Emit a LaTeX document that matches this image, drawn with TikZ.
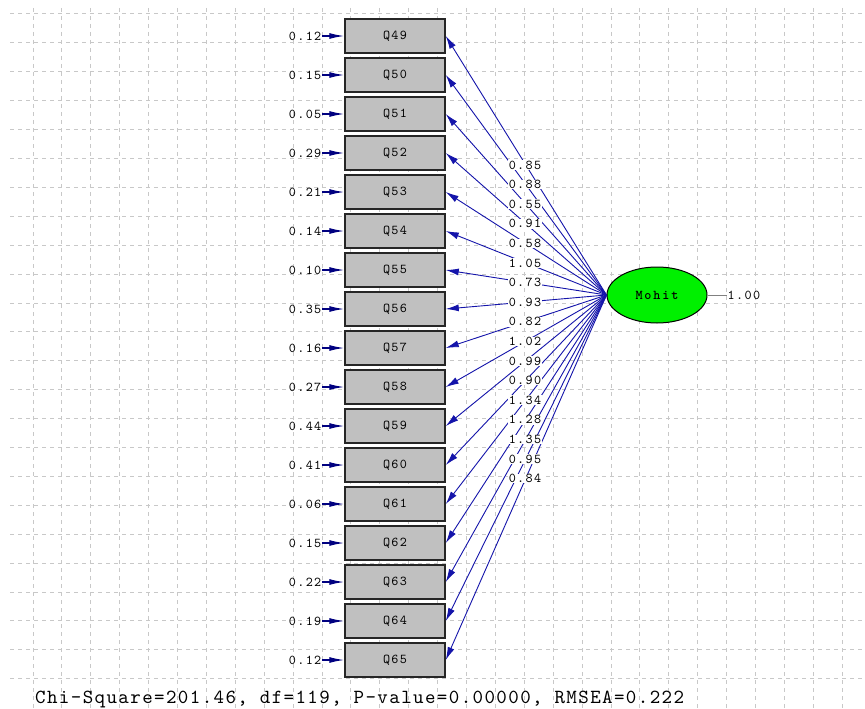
\documentclass[tikz,border=0pt]{standalone}
\usepackage{fontspec}
\usetikzlibrary{arrows.meta,shapes.geometric}
\newfontfamily\lisfont{lmmono10-regular.otf}[LetterSpace=10]
\newfontfamily\lisbold{lmmonolt10-bold.otf}[LetterSpace=14]
\newfontfamily\chifont{lmmono10-regular.otf}[LetterSpace=7]
\definecolor{gridc}{RGB}{200,200,200}
\definecolor{boxg}{RGB}{192,192,192}
\definecolor{navyarrow}{RGB}{20,20,170}
\definecolor{errnavy}{RGB}{0,0,128}
\definecolor{latgreen}{RGB}{0,240,0}
\begin{document}
\begin{tikzpicture}[x=1pt,y=-1pt,
 gridline/.style={gridc, line width=1pt, dash pattern=on 4pt off 4pt},
 qbox/.style={draw=black!85, line width=1.5pt, fill=boxg, minimum width=100pt, minimum height=34pt, inner sep=0pt, font=\lisfont\fontsize{13.5}{14}\selectfont, text=black},
 latent/.style={ellipse, draw=black, line width=1pt, fill=latgreen, minimum width=100pt, minimum height=56pt, inner sep=0pt, font=\lisbold\fontsize{13.5}{14}\selectfont},
 load/.style={draw=navyarrow, line width=0.9pt, -{Latex[length=13pt,width=7pt]}},
 err/.style={draw=errnavy, line width=1.3pt, -{Latex[length=15pt,width=6pt]}},
 lbl/.style={font=\lisfont\fontsize{13.5}{14}\selectfont, text=black, inner sep=0.5pt},
 loadlbl/.style={lbl, fill=white},
 varline/.style={draw=gray, line width=1pt},
 chistyle/.style={font=\chifont\fontsize{20}{22}\selectfont, text=black, inner sep=0pt}
]
\useasboundingbox (0,0) rectangle (865,709);
\fill[white] (0,0) rectangle (865,709);
% grid
\foreach \k in {0,...,23} \draw[gridline] (10,{14+\k*28.9}) -- (865,{14+\k*28.9});
\foreach \k in {0,...,28} \draw[gridline] ({33+\k*28.9},8) -- ({33+\k*28.9},709);
% latent
\node[latent] (m) at (657,295) {Mohit};
% boxes
\foreach \i [count=\n from 0] in {49,...,65}
  \node[qbox] (q\i) at (395,{36+\n*39}) {Q\i};
% loadings
\foreach \i in {49,...,65}
  \draw[load] (m.west) -- (q\i.east);
\foreach \i/\l [count=\n from 0] in {49/0.85,50/0.88,51/0.55,52/0.91,53/0.58,54/1.05,55/0.73,56/0.93,57/0.82,58/1.02,59/0.99,60/0.90,61/1.34,62/1.28,63/1.35,64/0.95,65/0.84}
  \node[loadlbl] (l\i) at (525,{165+\n*19.6}) {\l};
% errors
\foreach \i/\e [count=\n from 0] in {49/0.12,50/0.15,51/0.05,52/0.29,53/0.21,54/0.14,55/0.10,56/0.35,57/0.16,58/0.27,59/0.44,60/0.41,61/0.06,62/0.15,63/0.22,64/0.19,65/0.12}
{
  \coordinate (e\i) at (322,{36+\n*39});
  \draw[err] (e\i) -- (q\i.west);
  \node[lbl, anchor=east] (t\i) at (e\i) {\e};
}
% variance of latent
\coordinate (v) at (727,295);
\draw[varline] (m.east) -- (v);
\node[lbl, anchor=west] (vl) at (v) {1.00};
% fit statistics
\node[chistyle, anchor=base west] (chi) at (35,703) {Chi-Square=201.46, df=119, P-value=0.00000, RMSEA=0.222};
\end{tikzpicture}
\end{document}
